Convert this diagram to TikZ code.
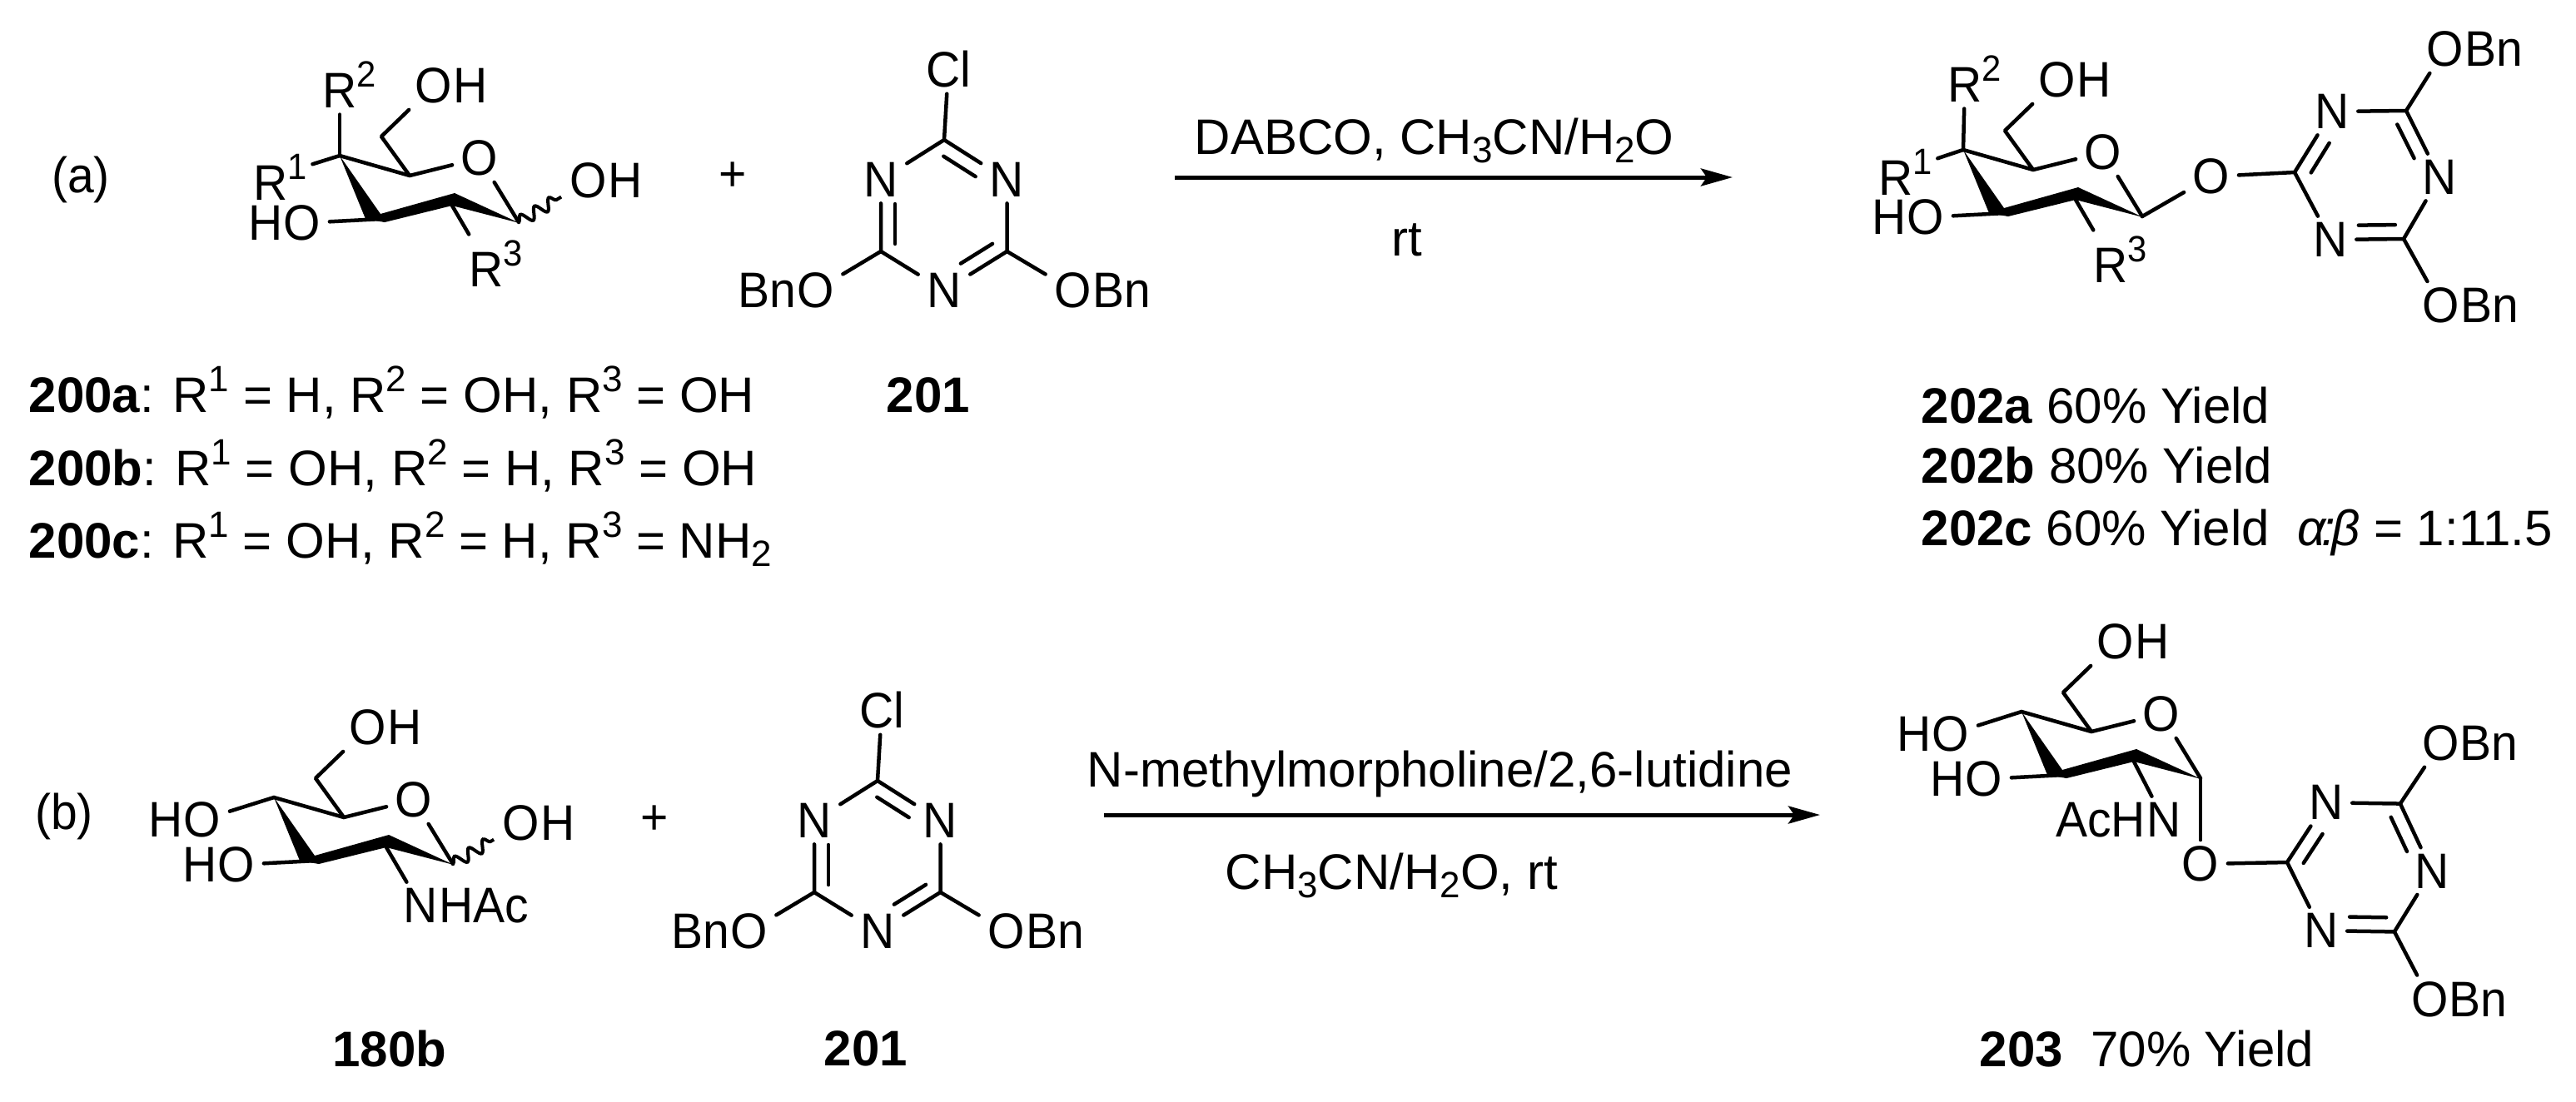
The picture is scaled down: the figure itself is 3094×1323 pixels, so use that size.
\documentclass[tikz,border=0pt]{standalone}
\usepackage{fontspec}
\setmainfont[FakeStretch=0.95]{Liberation Sans}
\newfontfamily\linefont{Liberation Sans}
\usetikzlibrary{positioning,calc,arrows.meta,decorations.pathmorphing}

\newcommand{\supdigit}[1]{\raisebox{0.25cm}{\fontsize{12.5}{14}\selectfont #1}}
\newcommand{\subdigit}[1]{\raisebox{-0.1cm}{\fontsize{12.5}{14}\selectfont #1}}
\newcommand{\rlabel}[1]{R\rlap{\supdigit{#1}}}

\tikzset{
	chem/.style={font=\fontsize{17.07}{20}\selectfont},
	atom/.style={chem,inner xsep=0.1cm,inner ysep=0.07cm},
	tail/.style={chem,inner sep=0pt},
	textline/.style={font=\linefont\fontsize{17.07}{20}\selectfont,inner sep=0pt,anchor=base west},
	compound/.style={font=\linefont\fontsize{17.07}{20}\selectfont\bfseries},
	bond/.style={line width=0.045cm,line join=round,line cap=round},
	wavy/.style={line width=0.04cm,decorate,decoration={snake,amplitude=0.07cm,segment length=0.2cm}},
	reaction/.style={line width=0.05cm,-{Stealth[length=0.38cm,width=0.21cm,inset=0.07cm]}}
}

% second line of a double bond
\newcommand{\ibond}[2]{\draw[bond,shorten <=0.1cm,shorten >=0.34cm] ($(#1)!0.17cm!-90:(#2)$) -- ($(#2)!0.17cm!90:(#1)$);}
% O with Bn hanging on the right or on the left
\newcommand{\obn}[2]{\node[atom] (#1) at (#2) {O}; \node[tail,right=-0.1cm of #1] (#1-bn) {Bn};}
\newcommand{\bno}[2]{\node[atom] (#1) at (#2) {O}; \node[tail,left=-0.1cm of #1] (#1-bn) {Bn};}
\newcommand{\hydroxyl}[2]{\node[atom] (#1) at (#2) {O}; \node[tail,right=-0.1cm of #1] (#1-h) {H};}
\newcommand{\hoxyl}[2]{\node[atom] (#1) at (#2) {O}; \node[tail,left=-0.1cm of #1] (#1-h) {H};}

% pyranose ring, origin at the carbon on the far left
\newcommand{\sugarring}{
	\coordinate (c4) at (0,0);
	\coordinate (c5) at (84,24);
	\coordinate (ch) at (50,-23);
	\coordinate (c3) at (51,76);
	\coordinate (c2) at (137,53);
	\coordinate (c2b) at (135,60);
	\coordinate (c1) at (215,80);
	\node[atom] (o) at (168,3) {O};
	\hydroxyl{oh}{113,-84}
	\hoxyl{ho}{-45,81}
	\draw[bond] (c4) -- (c5) -- (o) -- (c1);
	\draw[bond] (c5) -- (ch) -- (oh);
	\draw[bond] (c3) -- (ho);
	\fill (0,0) -- (49,70) -- (138,45) -- (216,81) -- (135,60) -- (54,80) -- (31,76) -- cycle;
}

% triazine of the products, origin at the carbon next to the glycosidic O
\newcommand{\triazineprod}{
	\coordinate (ca) at (0,0);
	\node[atom] (nu) at (45,-73) {N};
	\coordinate (cb) at (134,-74);
	\node[atom] (nr) at (174,6) {N};
	\coordinate (cc) at (131,80);
	\node[atom] (nl) at (43,81) {N};
	\obn{obu}{180.5,-148}
	\obn{obl}{175.5,160}
	\draw[bond] (ca) -- (nu) -- (cb) -- (nr) -- (cc) -- (nl) -- (ca);
	\draw[bond] (cb) -- (obu);
	\draw[bond] (cc) -- (obl);
	\ibond{ca}{nu}
	\ibond{cb}{nr}
	\ibond{cc}{nl}
}

% chlorotriazine, origin at the carbon that carries Cl
\newcommand{\triazinecl}{
	\coordinate (ct) at (0,0);
	\node[atom] (cl) at (5,-85) {Cl};
	\node[atom] (nl) at (-76,48) {N};
	\node[atom] (nr) at (75.5,48) {N};
	\coordinate (cll) at (-76,134);
	\coordinate (clr) at (75.5,134);
	\node[atom] (nb) at (0,181) {N};
	\bno{obl}{-154.5,181}
	\obn{obr}{154.5,181}
	\draw[bond] (cl) -- (ct) -- (nl) -- (cll) -- (nb) -- (clr) -- (nr) -- (ct);
	\draw[bond] (cll) -- (obl);
	\draw[bond] (clr) -- (obr);
	\ibond{ct}{nr}
	\ibond{clr}{nb}
	\draw[bond,shorten <=0.29cm,shorten >=0.09cm] ($(nl)!0.17cm!90:(cll)$) -- ($(cll)!0.17cm!-90:(nl)$);
}

\begin{document}
\begin{tikzpicture}[x=0.01cm,y=-0.01cm]
	\useasboundingbox (0,0) rectangle (3094,1323);

	% row (a)
	\node[chem] (rowa) at (97,216) {(a)};
	\begin{scope}[shift={(408,187)},name prefix=sa-]
		\sugarring
		\node[atom] (r1) at (-83,26) {\rlabel{1}};
		\node[atom] (r2) at (0,-85) {\rlabel{2}};
		\node[atom] (r3) at (176,130) {\rlabel{3}};
		\hydroxyl{ohw}{299,30}
		\draw[bond,shorten >=0.2cm] (c4) -- (r1);
		\draw[bond] (c4) -- (r2);
		\draw[bond] (c2b) -- (r3);
		\draw[wavy] (c1) -- (ohw);
	\end{scope}
	\node[chem] (plusa) at (880,212) {+};
	\begin{scope}[shift={(1134,168)},name prefix=ta-]
		\triazinecl
	\end{scope}
	\coordinate (arra1) at (1411,213);
	\coordinate (arra2) at (2081,213);
	\draw[reaction] (arra1) -- (arra2);
	\node[textline] (conda) at (1434,185) {DABCO, CH\subdigit{3}CN/H\subdigit{2}O};
	\node[textline] (rta) at (1671,307) {rt};
	\begin{scope}[shift={(2358,180)},name prefix=pa-]
		\sugarring
		\node[atom] (r1) at (-81,27) {\rlabel{1}};
		\node[atom] (r2) at (2,-85) {\rlabel{2}};
		\node[atom] (r3) at (177,132) {\rlabel{3}};
		\node[atom] (go) at (298,32) {O};
		\draw[bond,shorten >=0.2cm] (c4) -- (r1);
		\draw[bond] (c4) -- (r2);
		\draw[bond] (c2b) -- (r3);
		\draw[bond] (c1) -- (go);
	\end{scope}
	\begin{scope}[shift={(2756,207)},name prefix=qa-]
		\triazineprod
	\end{scope}
	\draw[bond] (pa-go) -- (qa-ca);

	% compound labels of row (a)
	\node[textline] (n200a) at (34,495) {\textbf{200a}: R\supdigit{1} = H, R\supdigit{2} = OH, R\supdigit{3} = OH};
	\node[textline] (n200b) at (34,583) {\textbf{200b}: R\supdigit{1} = OH, R\supdigit{2} = H, R\supdigit{3} = OH};
	\node[textline] (n200c) at (34,670) {\textbf{200c}: R\supdigit{1} = OH, R\supdigit{2} = H, R\supdigit{3} = NH\subdigit{2}};
	\node[compound] (n201a) at (1115,475) {201};
	\node[textline] (n202a) at (2307,508) {\textbf{202a} 60\% Yield};
	\node[textline] (n202b) at (2307,580) {\textbf{202b} 80\% Yield};
	\node[textline] (n202c) at (2307,655) {\textbf{202c} 60\% Yield \ \textit{α\kern-0.05cm:\kern-0.05cm β} = 1:11.5};

	% row (b)
	\node[chem] (rowb) at (77,981) {(b)};
	\begin{scope}[shift={(329,958)},name prefix=sb-]
		\sugarring
		\hoxyl{ho4}{-86,27}
		\node[atom] (nh) at (176,130) {N};
		\node[tail,right=-0.1cm of nh] (nh-ac) {HAc};
		\hydroxyl{ohw}{297,31}
		\draw[bond] (c4) -- (ho4);
		\draw[bond] (c2b) -- (nh);
		\draw[wavy] (c1) -- (ohw);
	\end{scope}
	\node[chem] (plusb) at (786,985) {+};
	\begin{scope}[shift={(1054,938)},name prefix=tb-]
		\triazinecl
	\end{scope}
	\coordinate (arrb1) at (1326,979);
	\coordinate (arrb2) at (2186,979);
	\draw[reaction] (arrb1) -- (arrb2);
	\node[textline] (condb) at (1305,945) {N-methylmorpholine/2,6-lutidine};
	\node[textline] (solvb) at (1471,1068) {CH\subdigit{3}CN/H\subdigit{2}O, rt};
	\begin{scope}[shift={(2428,855)},name prefix=pb-]
		\sugarring
		\hoxyl{ho4}{-85,27}
		\node[atom] (nh) at (171,130) {N};
		\node[tail,left=-0.1cm of nh] (nh-ac) {AcH};
		\node[atom] (go) at (215,183) {O};
		\draw[bond] (c4) -- (ho4);
		\draw[bond] (c2b) -- (nh);
		\draw[bond] (c1) -- (go);
	\end{scope}
	\begin{scope}[shift={(2747,1036)},rotate=-1.5,name prefix=qb-]
		\triazineprod
	\end{scope}
	\draw[bond] (pb-go) -- (qb-ca);

	% compound labels of row (b)
	\node[compound] (n180b) at (468,1260) {180b};
	\node[compound] (n201b) at (1040,1260) {201};
	\node[textline] (n203) at (2377,1281) {\textbf{203} \ 70\% Yield};
\end{tikzpicture}
\end{document}
